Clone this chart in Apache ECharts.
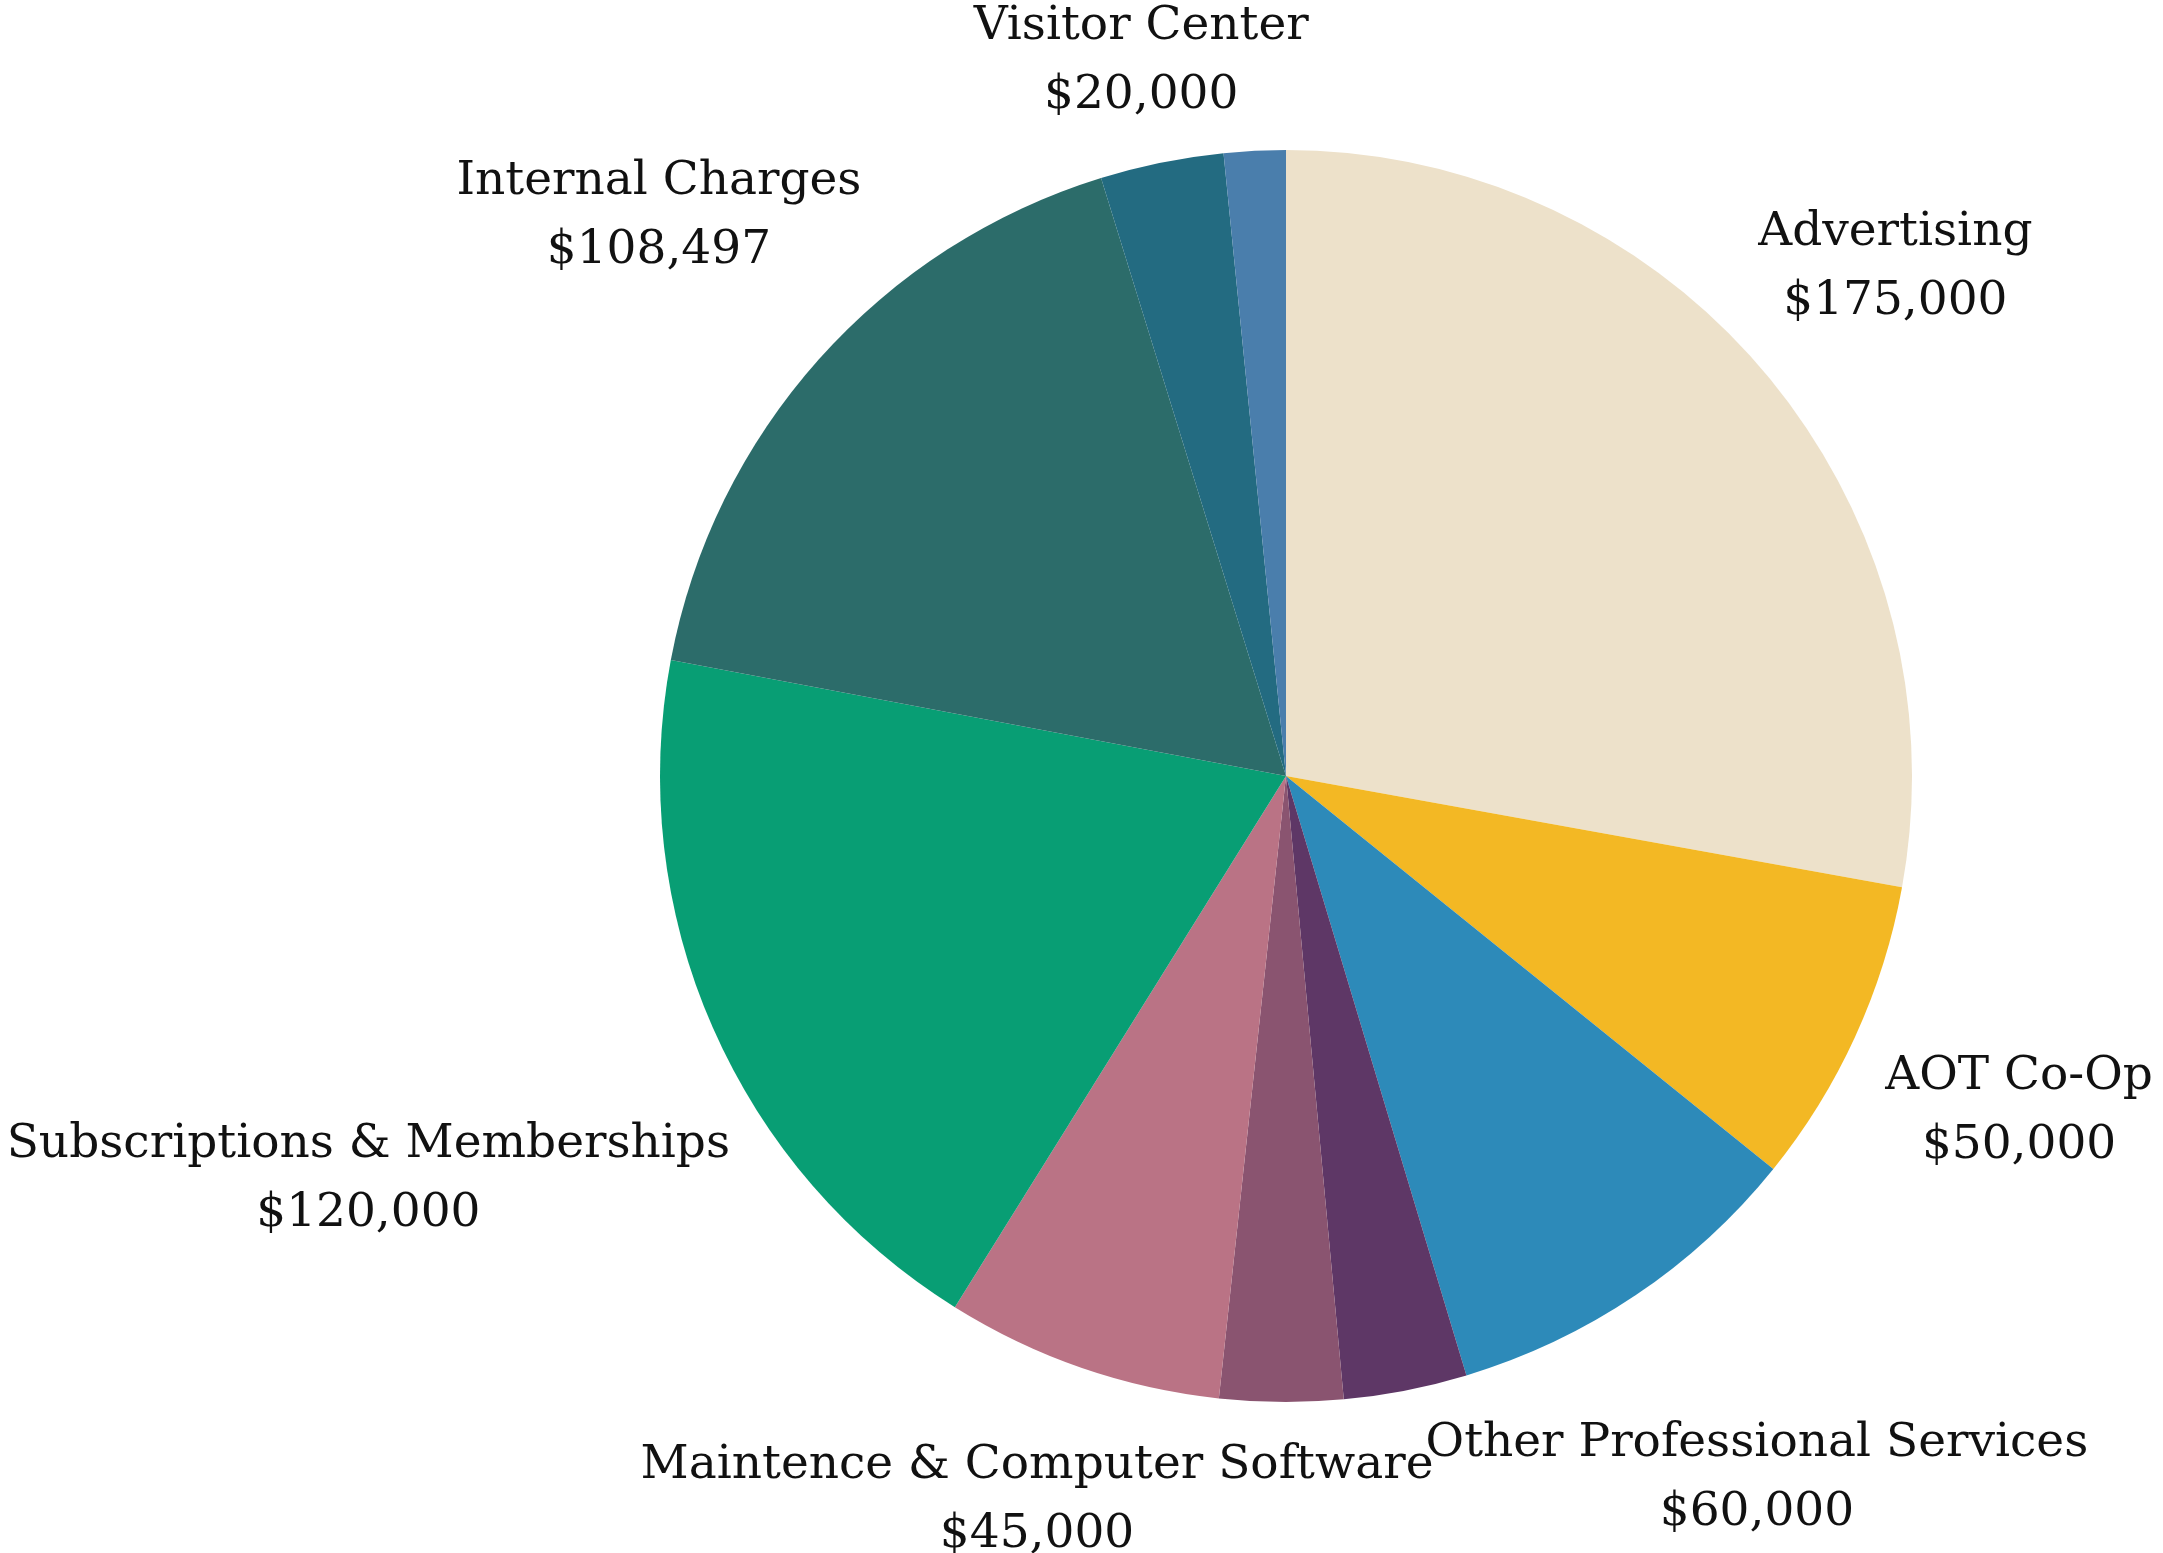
<!DOCTYPE html>
<html>
<head>
<meta charset="utf-8">
<script src="https://cdn.jsdelivr.net/npm/echarts@6/dist/echarts.min.js"></script>
<style>
html,body{margin:0;padding:0;background:#fff;}
#chart{width:2163px;height:1553px;}
</style>
</head>
<body>
<div id="chart"></div>
<script>
// ---- data ----
const categories = [
  'Advertising',
  'AOT Co-Op',
  'Other Professional Services',
  'Unlabeled slice 1',
  'Unlabeled slice 2',
  'Maintence & Computer Software',
  'Subscriptions & Memberships',
  'Internal Charges',
  'Visitor Center',
  'Unlabeled slice 3'
];
const values = [175000, 50000, 60000, 20000, 20000, 45000, 120000, 108497, 20000, 10000];
const showLabel = [true, true, true, false, false, true, true, true, true, false];

// ---- style ----
const colors = ['#EDE1CA', '#F3B824', '#2D8AB9', '#5E3766', '#8A5470', '#BA7385', '#089E74', '#2C6C6A', '#236B81', '#4A7EAC'];
const CX = 1286, CY = 776, R = 626, GAP = 50, H_HALF = 20;
const labelNudge = {
  'Maintence & Computer Software': [20, -55],
  'Other Professional Services': [-19, -26],
  'Subscriptions & Memberships': [12, -5]
};

const total = values.reduce((a, b) => a + b, 0);
const midAngles = [];
let acc = 0;
values.forEach(v => { midAngles.push((acc + v / 2) / total * 2 * Math.PI); acc += v; });

const fmt = v => '$' + Number(v).toLocaleString('en-US');

const chart = echarts.init(document.getElementById('chart'), null, {renderer: 'canvas'});
chart.setOption({
  animation: false,
  backgroundColor: '#ffffff',
  series: [{
    type: 'pie',
    center: [CX, CY],
    radius: [0, R],
    startAngle: 90,
    clockwise: true,
    avoidLabelOverlap: false,
    data: categories.map((c, i) => ({
      name: c,
      value: values[i],
      itemStyle: {color: colors[i]},
      label: {show: showLabel[i]}
    })),
    itemStyle: {borderWidth: 0},
    label: {
      show: true,
      position: 'outside',
      formatter: p => p.name + '\n' + fmt(p.value),
      fontFamily: 'DejaVu Serif',
      fontSize: 47,
      lineHeight: 69,
      color: '#111',
      align: 'center'
    },
    labelLine: {show: false},
    emphasis: {disabled: true},
    labelLayout: function (p) {
      const i = p.dataIndex;
      const a = midAngles[i];
      const ux = Math.sin(a), uy = -Math.cos(a);
      const w = p.labelRect.width;
      const ext = Math.abs(ux) * w / 2 + Math.abs(uy) * H_HALF;
      const d = R + GAP + ext;
      const n = labelNudge[categories[i]] || [0, 0];
      return {
        x: CX + ux * d + n[0],
        y: CY + uy * d + n[1],
        align: 'center',
        verticalAlign: 'middle'
      };
    }
  }]
});
</script>
</body>
</html>
